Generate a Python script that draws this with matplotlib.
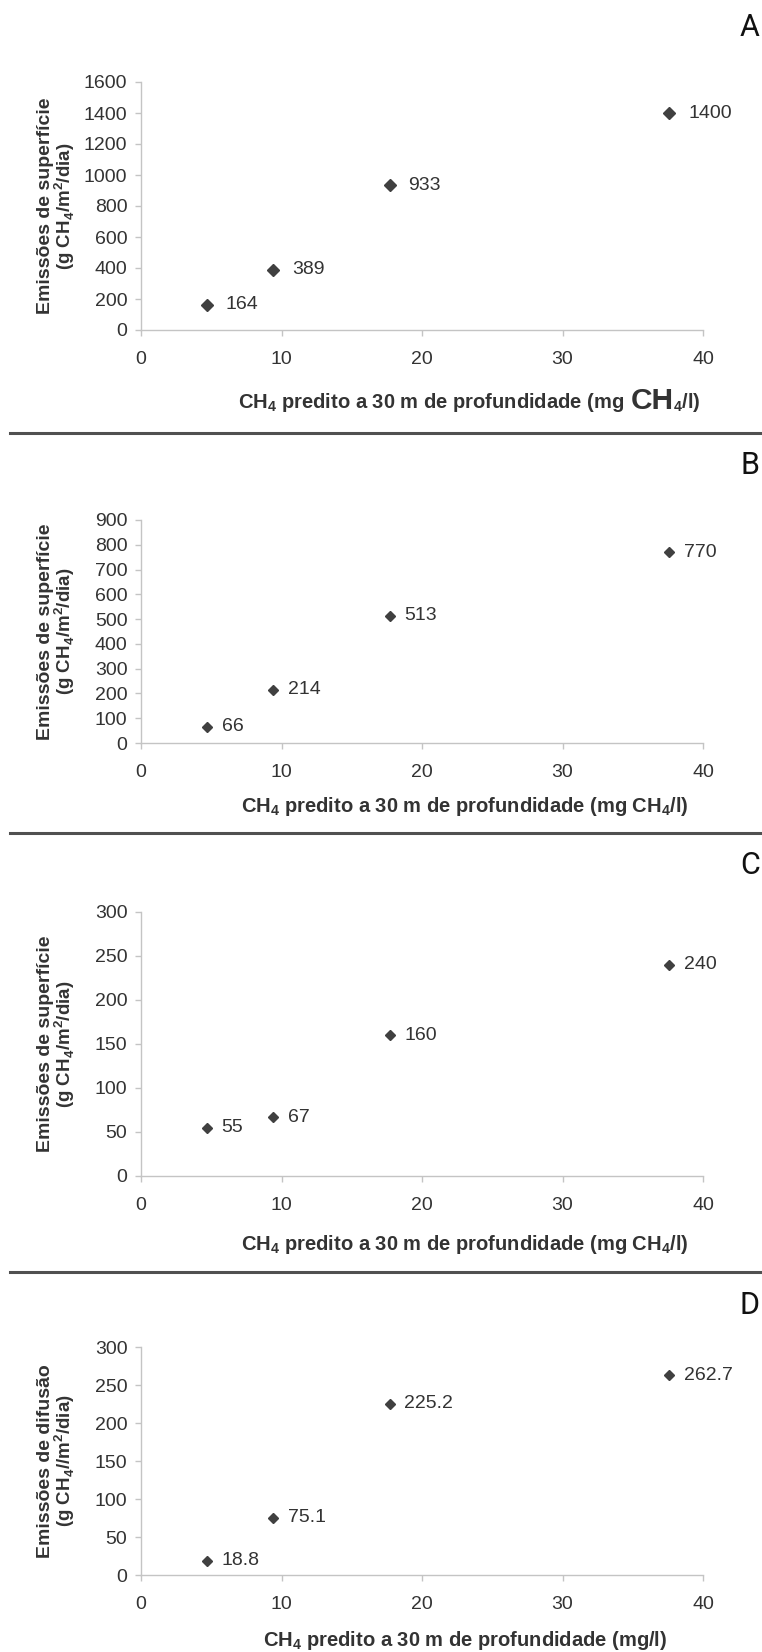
import matplotlib
matplotlib.use('Agg')
import matplotlib.pyplot as plt
from matplotlib.lines import Line2D
from matplotlib.text import Annotation

# ---------------- data ----------------
x_pred = [4.7, 9.4, 17.7, 37.6]          # CH4 predito a 30 m (mg/l)
emis_A = [164, 389, 933, 1400]
emis_B = [66, 214, 513, 770]
emis_C = [55, 67, 160, 240]
emis_D = [18.8, 75.1, 225.2, 262.7]
labels_A = ['164', '389', '933', '1400']
labels_B = ['66', '214', '513', '770']
labels_C = ['55', '67', '160', '240']
labels_D = ['18.8', '75.1', '225.2', '262.7']
x_ticks = [0, 10, 20, 30, 40]
yticks_A = [0, 200, 400, 600, 800, 1000, 1200, 1400, 1600]
yticks_B = [0, 100, 200, 300, 400, 500, 600, 700, 800, 900]
yticks_C = [0, 50, 100, 150, 200, 250, 300]
yticks_D = [0, 50, 100, 150, 200, 250, 300]
panel_letters = ['A', 'B', 'C', 'D']
ylab1 = ['Emissões de superfície', 'Emissões de superfície',
         'Emissões de superfície', 'Emissões de difusão']
ylab2 = [r'(g CH$_{\mathregular{4}}$/m$^{\mathregular{2}}$/dia)',
         r'(g CH$_{\mathregular{4}}$/m$^{\mathregular{2}}$/dia)',
         r'(g CH$_{\mathregular{4}}$/m$^{\mathregular{2}}$/dia)',
         r'(g CH$_{\mathregular{4}}$//m$^{\mathregular{2}}$/dia)']
xlab_A_parts = [r'CH$_{\mathregular{4}}$ predito a 30 m de profundidade (mg',
                'CH', r'$_{\mathregular{4}}$/l)']
xlab_B = r'CH$_{\mathregular{4}}$ predito a 30 m de profundidade (mg CH$_{\mathregular{4}}$/l)'
xlab_D = r'CH$_{\mathregular{4}}$ predito a 30 m de profundidade (mg/l)'

# ---------------- layout (pixels, top origin) ----------------
W, H, DPI = 762, 1652, 100
fig = plt.figure(figsize=(W / DPI, H / DPI), dpi=DPI)
fig.patch.set_facecolor('white')

def fx(px):
    return px / W

def fy(py):
    return 1 - py / H

AX_L, AX_R = 141, 703
panels = [
    dict(top=82, bot=330, y=emis_A, lab=labels_A, yt=yticks_A, ms=6.6, dx=13.5,
         letter_y=28, xl_y=405),
    dict(top=520, bot=743, y=emis_B, lab=labels_B, yt=yticks_B, ms=4.6, dx=10.5,
         letter_y=465, xl_y=806),
    dict(top=912, bot=1176, y=emis_C, lab=labels_C, yt=yticks_C, ms=5.1, dx=10.5,
         letter_y=866, xl_y=1245),
    dict(top=1347, bot=1575, y=emis_D, lab=labels_D, yt=yticks_D, ms=4.6, dx=10.5,
         letter_y=1306, xl_y=1641),
]

TXT = '#333333'
MK = '#404040'
SP = '#c4c4c4'
REG = 'Liberation Sans'
LETTER = ['Liberation Sans Narrow', 'Roboto']

for i, p in enumerate(panels):
    ax = fig.add_axes([fx(AX_L), fy(p['bot']), (AX_R - AX_L) / W, (p['bot'] - p['top']) / H])
    ax.plot(x_pred, p['y'], linestyle='none', marker='D', ms=p['ms'], color=MK,
            markeredgecolor=MK, clip_on=False)
    for xv, yv, t in zip(x_pred, p['y'], p['lab']):
        ax.annotate(t, xy=(xv, yv), xytext=(p['dx'], 0), textcoords='offset points',
                    ha='left', va='center', fontsize=14, family=REG, color=TXT)
    ax.set_xlim(0, 40)
    ax.set_ylim(p['yt'][0], p['yt'][-1])
    ax.set_xticks(x_ticks)
    ax.set_yticks(p['yt'])
    ax.set_xticklabels([str(v) for v in x_ticks])
    ax.set_yticklabels([str(v) for v in p['yt']])
    for s in ['top', 'right']:
        ax.spines[s].set_visible(False)
    for s in ['left', 'bottom']:
        ax.spines[s].set_color(SP)
        ax.spines[s].set_linewidth(1.0)
    ax.tick_params(axis='both', direction='out', color=SP, width=1.0, length=4.3,
                   labelcolor=TXT, labelsize=14)
    ax.tick_params(axis='x', pad=11)
    ax.tick_params(axis='y', pad=5.5)
    for lbl in ax.get_xticklabels() + ax.get_yticklabels():
        lbl.set_family(REG)

    cy = (p['top'] + p['bot']) / 2
    fig.text(fx(46), fy(cy), ylab1[i], rotation=90, ha='center', va='center',
             fontsize=14, fontweight='bold', family=REG, color=TXT)
    fig.text(fx(65), fy(cy), ylab2[i], rotation=90, ha='center', va='center',
             fontsize=13.5, fontweight='bold', family=REG, color=TXT)

    fig.text(fx(750), fy(p['letter_y']), panel_letters[i], ha='center', va='center',
             fontsize=22, family=LETTER, color='#111111')

    if i == 0:
        t1 = fig.text(fx(238), fy(p['xl_y'] + 9), xlab_A_parts[0],
                      ha='left', va='bottom', fontsize=14.5, fontweight='bold',
                      family=REG, color=TXT)
        a2 = fig.add_artist(Annotation(
            xlab_A_parts[1], xy=(1, 0), xycoords=t1, xytext=(4.5, -0.5),
            textcoords='offset points', ha='left', va='bottom', fontsize=21.5,
            fontweight='bold', family=REG, color=TXT))
        fig.add_artist(Annotation(
            xlab_A_parts[2], xy=(1, 0), xycoords=a2, xytext=(0, 0.5),
            textcoords='offset points', ha='left', va='bottom', fontsize=14.5,
            fontweight='bold', family=REG, color=TXT))
    else:
        lab = xlab_D if i == 3 else xlab_B
        fig.text(fx(465), fy(p['xl_y']), lab, ha='center', va='center', fontsize=14.5,
                 fontweight='bold', family=REG, color=TXT)

# separators between panels
for sy in [433, 833, 1272]:
    fig.add_artist(Line2D([fx(10), fx(762)], [fy(sy), fy(sy)], color='#505050',
                          linewidth=2.2, transform=fig.transFigure))

fig.savefig('out.png', dpi=DPI, facecolor='white')
